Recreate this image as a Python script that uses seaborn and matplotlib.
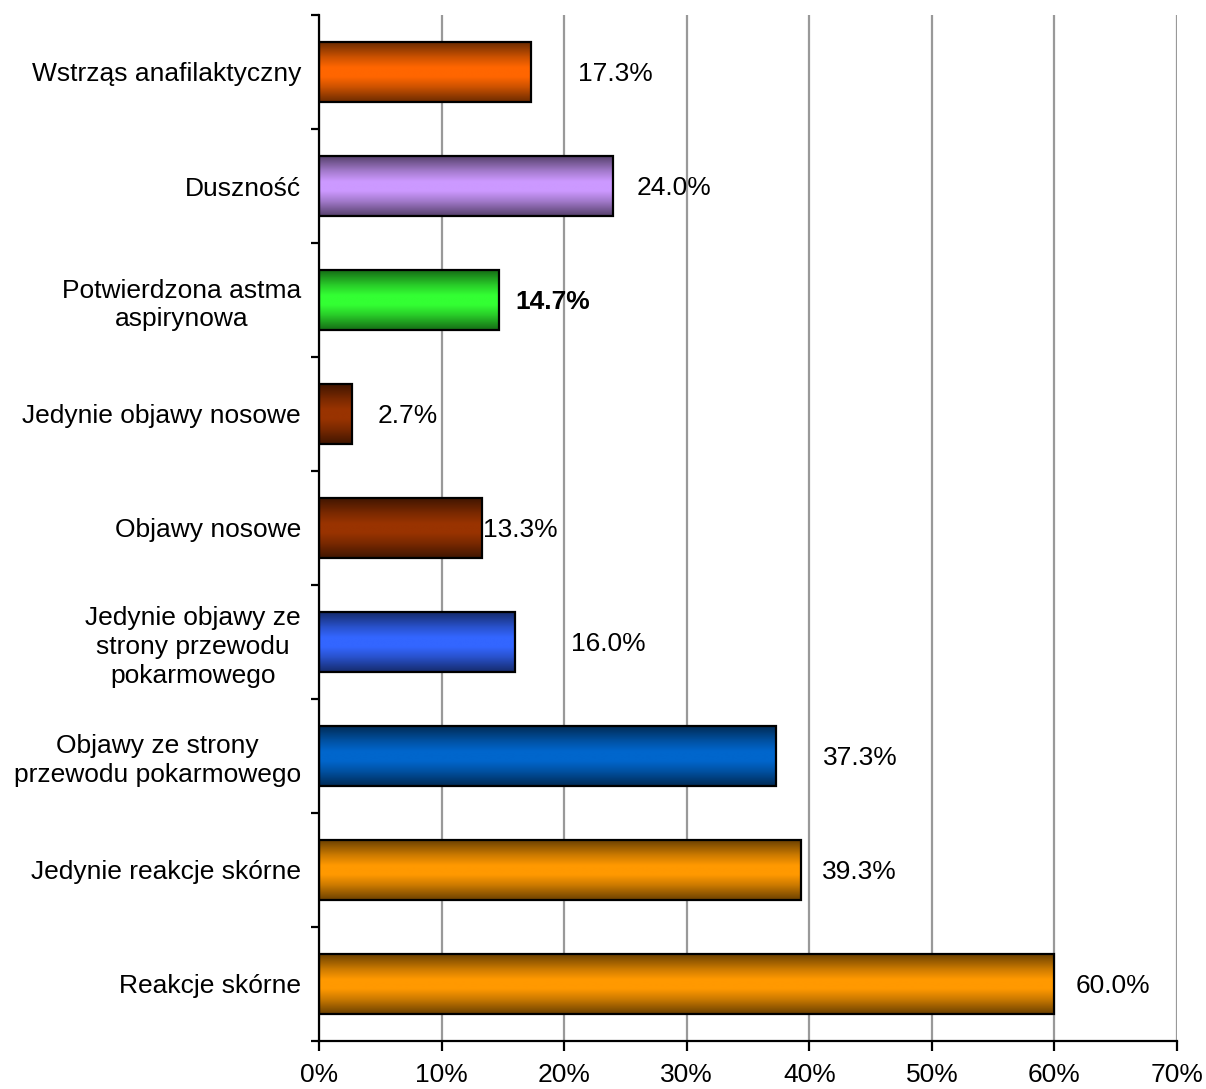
import numpy as np
import pandas as pd
import matplotlib
matplotlib.use("Agg")
import matplotlib.pyplot as plt
from matplotlib.colors import LinearSegmentedColormap, to_rgb
from matplotlib.ticker import FixedLocator, PercentFormatter
import seaborn as sns

categories = [
    "Wstrząs anafilaktyczny",
    "Duszność",
    "Potwierdzona astma\naspirynowa",
    "Jedynie objawy nosowe",
    "Objawy nosowe",
    "Jedynie objawy ze\nstrony przewodu\npokarmowego",
    "Objawy ze strony\nprzewodu pokarmowego",
    "Jedynie reakcje skórne",
    "Reakcje skórne",
]
values = [17.3, 24.0, 14.7, 2.7, 13.3, 16.0, 37.3, 39.3, 60.0]
bar_colors = ["#FF6600", "#CC99FF", "#33FF33", "#993300", "#993300",
              "#3366FF", "#0066CC", "#FF9900", "#FF9900"]
value_labels = ["17.3%", "24.0%", "14.7%", "2.7%", "13.3%",
                "16.0%", "37.3%", "39.3%", "60.0%"]
bold_labels = [False, False, True, False, False, False, False, False, False]
# horizontal gap between bar end and its label, in axis units (%)
label_gaps = [3.8, 1.9, 1.3, 2.1, 0.1, 4.6, 3.8, 1.7, 1.7]

sns.set_theme(style="white")
plt.rcParams["font.family"] = ["Liberation Sans", "DejaVu Sans"]
plt.rcParams["text.color"] = "black"
plt.rcParams["xtick.color"] = "black"
plt.rcParams["ytick.color"] = "black"

FS = 19

df = pd.DataFrame({"kategoria": categories, "wartosc": values})

fig = plt.figure(figsize=(12.06, 10.89), dpi=100)
ax = fig.add_axes([319 / 1206, 1 - 1041 / 1089, (1177 - 319) / 1206, (1041 - 15) / 1089])

sns.barplot(data=df, y="kategoria", x="wartosc", hue="kategoria",
            palette=bar_colors, orient="h", width=0.52, legend=False,
            edgecolor="black", linewidth=1.6, ax=ax, zorder=3)

ax.set_xlim(0, 70)
ax.set_ylim(8.5, -0.5)

# vertical shading on each bar: dark edges, bright centre
grad = np.linspace(0, 1, 256).reshape(-1, 1)
for patch, col in zip(ax.patches, bar_colors):
    c = np.array(to_rgb(col))
    dark = c * 0.42
    mid = c * 0.8
    cmap = LinearSegmentedColormap.from_list(
        "shade", [(0.0, dark), (0.25, mid), (0.42, c), (0.58, c), (0.75, mid), (1.0, dark)])
    x0, y0 = patch.get_x(), patch.get_y()
    w, h = patch.get_width(), patch.get_height()
    im = ax.imshow(grad, cmap=cmap, aspect="auto",
                   extent=(x0, x0 + w, y0 + h, y0), origin="upper", zorder=3.5)
    im.set_clip_path(patch)
    patch.set_zorder(4)
    patch.set_facecolor("none")

ax.set_xlim(0, 70)
ax.set_ylim(8.5, -0.5)

for i, (v, txt, b, gap) in enumerate(zip(values, value_labels, bold_labels, label_gaps)):
    ax.text(v + gap, i + 0.02, txt, va="center", ha="left", fontsize=FS,
            fontweight="bold" if b else "normal", color="black", zorder=5)

# grid and spines
ax.xaxis.set_major_locator(FixedLocator(np.arange(0, 71, 10)))
ax.xaxis.set_major_formatter(PercentFormatter(decimals=0))
ax.grid(axis="x", color="#999999", linewidth=1.6, zorder=1)
ax.grid(axis="y", visible=False)
for s in ["top", "right"]:
    ax.spines[s].set_visible(False)
for s in ["left", "bottom"]:
    ax.spines[s].set_color("black")
    ax.spines[s].set_linewidth(1.6)
    ax.spines[s].set_zorder(6)

ax.set_yticks(range(len(categories)))
ax.set_yticklabels(categories, fontsize=FS, multialignment="center", color="black",
                   linespacing=1.25)
ax.yaxis.set_minor_locator(FixedLocator(np.arange(-0.5, 9, 1)))
ax.tick_params(axis="y", which="major", length=0, pad=13)
ax.tick_params(axis="y", which="minor", length=6, width=1.6, color="black", left=True)
ax.tick_params(axis="x", which="major", length=7, width=1.6, color="black",
               bottom=True, labelsize=FS, labelcolor="black", pad=9)
ax.set_xlabel("")
ax.set_ylabel("")

fig.savefig("out.png", dpi=100)
